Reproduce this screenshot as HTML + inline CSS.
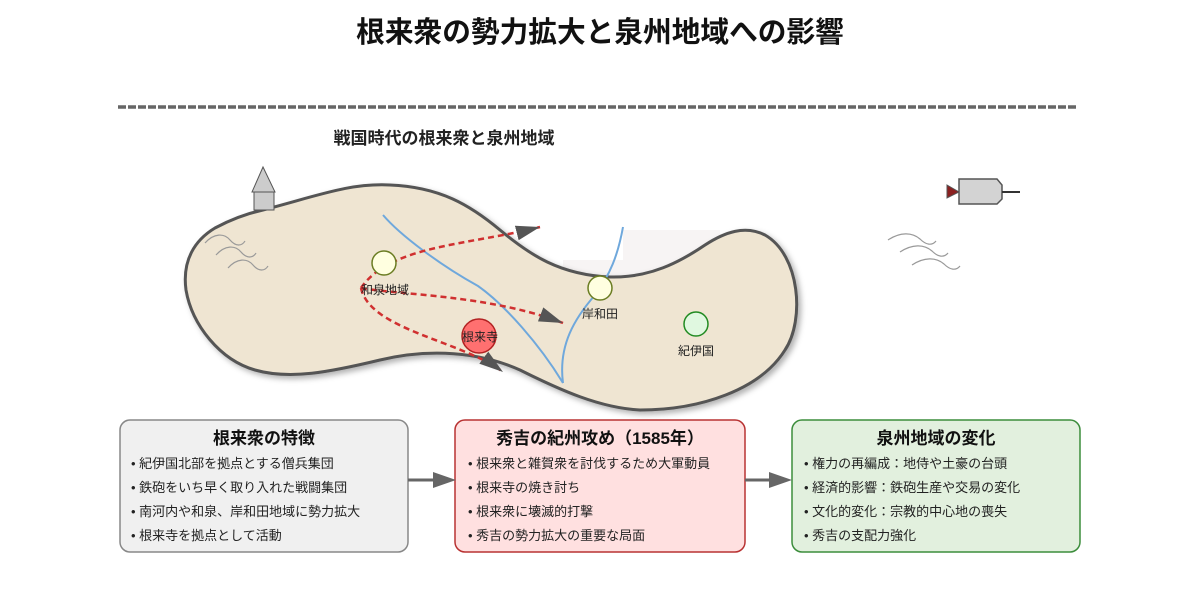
<!DOCTYPE html>
<html>
<head>
<meta charset="utf-8">
<style>
html,body{margin:0;padding:0;background:#fff;}
svg{display:block;}
text{font-family:"Liberation Sans","Noto Sans CJK JP",sans-serif;}
</style>
</head>
<body>
<svg width="1200" height="600" viewBox="0 0 1200 600" xmlns="http://www.w3.org/2000/svg">
<defs>
<filter id="sh" x="-10%" y="-10%" width="130%" height="130%">
<feDropShadow dx="3" dy="3" stdDeviation="3" flood-color="#000" flood-opacity="0.3"/>
</filter>
<marker id="ah" markerUnits="userSpaceOnUse" markerWidth="24" markerHeight="15" viewBox="0 0 24 15" refX="24" refY="7.5" orient="auto">
<path d="M0,0 L24,7.5 L0,15 z" fill="#555"/>
</marker>
</defs>

<!-- Title -->
<text x="600" y="42" text-anchor="middle" font-size="28.7" font-weight="bold" fill="#111">根来衆の勢力拡大と泉州地域への影響</text>
<line x1="118" y1="107" x2="1078" y2="107" stroke="#666" stroke-width="3.5" stroke-dasharray="8,2"/>
<text x="444" y="144" text-anchor="middle" font-size="17" font-weight="bold" fill="#222">戦国時代の根来衆と泉州地域</text>

<!-- faint background patch -->
<rect x="623" y="230" width="97" height="48" fill="#f7f4f4"/>
<rect x="563" y="260" width="60" height="18" fill="#f7f4f4"/>

<!-- Land -->
<path d="M263,210 C320,195 350,183 390,185 C440,187 470,205 500,230 C530,255 560,275 610,277 C650,278 680,262 705,245 C725,232 745,225 765,235 C800,255 805,320 785,350 C760,390 700,410 640,410 C600,408 560,390 520,370 C480,352 430,348 380,360 C330,372 290,380 255,370 C220,360 192,325 186,290 C182,260 195,240 215,228 C230,220 245,214 263,210 Z" fill="#efe5d2" stroke="#555" stroke-width="3" filter="url(#sh)"/>

<!-- Mountain / house icon -->
<polygon points="263,167 252,192 275,192" fill="#ccc" stroke="#555" stroke-width="1"/>
<rect x="254" y="192" width="20" height="18" fill="#ccc" stroke="#555" stroke-width="1"/>

<!-- Left waves -->
<g fill="none" stroke="#999" stroke-width="1.2">
<path d="M205,243 C214,233 224,233 230,240 C236,247 242,246 245,241"/>
<path d="M216,255 C225,245 235,245 241,252 C247,259 253,258 256,253"/>
<path d="M228,268 C237,258 247,258 253,265 C259,272 265,271 268,266"/>
</g>

<!-- Rivers -->
<g fill="none" stroke="#6fa8dc" stroke-width="2">
<path d="M383,215 C400,235 440,265 478,286 C505,305 540,345 563,383"/>
<path d="M563,383 C558,345 575,318 595,295 C610,275 618,255 623,227"/>
</g>

<!-- Red dashed routes -->
<g fill="none" stroke="#d03030" stroke-width="2.5" stroke-dasharray="6,4">
<path d="M361,288 C390,245 470,245 540,227" marker-end="url(#ah)"/>
<path d="M361,288 C400,295 490,295 563,323" marker-end="url(#ah)"/>
<path d="M361,288 C370,330 460,340 503,372" marker-end="url(#ah)"/>
</g>

<!-- Places -->
<circle cx="384" cy="263" r="12" fill="#ffffe0" stroke="#6b7d23" stroke-width="1.5"/>
<text x="385" y="294" text-anchor="middle" font-size="12" fill="#222">和泉地域</text>

<circle cx="479" cy="336" r="17" fill="#ff7070" stroke="#b22222" stroke-width="1.5"/>
<text x="480" y="341" text-anchor="middle" font-size="12" fill="#222">根来寺</text>

<circle cx="600" cy="288" r="12" fill="#ffffe0" stroke="#6b7d23" stroke-width="1.5"/>
<text x="600" y="318" text-anchor="middle" font-size="12" fill="#222">岸和田</text>

<circle cx="696" cy="324" r="12" fill="#e0f8e0" stroke="#228b22" stroke-width="1.5"/>
<text x="696" y="355" text-anchor="middle" font-size="12" fill="#222">紀伊国</text>

<!-- Ship -->
<polygon points="947,185 959,192 947,198" fill="#8b2020" stroke="#555" stroke-width="1"/>
<polygon points="959,179 997,179 1002,185 1002,199 997,204 959,204" fill="#d3d3d3" stroke="#555" stroke-width="1.5"/>
<line x1="1002" y1="192" x2="1020" y2="192" stroke="#333" stroke-width="2"/>

<!-- Right waves -->
<g fill="none" stroke="#999" stroke-width="1.2">
<path d="M888,240 C900,232 912,232 920,239 C926,245 932,246 936,241"/>
<path d="M900,252 C912,244 924,244 932,251 C938,257 944,258 948,253"/>
<path d="M912,265 C924,257 936,257 944,264 C950,270 956,271 960,266"/>
</g>

<!-- Boxes -->
<rect x="120" y="420" width="288" height="132" rx="10" fill="#f0f0f0" stroke="#888" stroke-width="1.5"/>
<text x="264" y="444" text-anchor="middle" font-size="17" font-weight="bold" fill="#111">根来衆の特徴</text>
<g font-size="13" fill="#222">
<text x="131" y="468">• 紀伊国北部を拠点とする僧兵集団</text>
<text x="131" y="492">• 鉄砲をいち早く取り入れた戦闘集団</text>
<text x="131" y="516">• 南河内や和泉、岸和田地域に勢力拡大</text>
<text x="131" y="540">• 根来寺を拠点として活動</text>
</g>

<rect x="455" y="420" width="290" height="132" rx="10" fill="#ffe0e0" stroke="#b83232" stroke-width="1.5"/>
<text x="600" y="444" text-anchor="middle" font-size="17" font-weight="bold" fill="#111">秀吉の紀州攻め（1585年）</text>
<g font-size="13" fill="#222">
<text x="468" y="468">• 根来衆と雑賀衆を討伐するため大軍動員</text>
<text x="468" y="492">• 根来寺の焼き討ち</text>
<text x="468" y="516">• 根来衆に壊滅的打撃</text>
<text x="468" y="540">• 秀吉の勢力拡大の重要な局面</text>
</g>

<rect x="792" y="420" width="288" height="132" rx="10" fill="#e2f0de" stroke="#3c8d3c" stroke-width="1.5"/>
<text x="936" y="444" text-anchor="middle" font-size="17" font-weight="bold" fill="#111">泉州地域の変化</text>
<g font-size="13" fill="#222">
<text x="804" y="468">• 権力の再編成：地侍や土豪の台頭</text>
<text x="804" y="492">• 経済的影響：鉄砲生産や交易の変化</text>
<text x="804" y="516">• 文化的変化：宗教的中心地の喪失</text>
<text x="804" y="540">• 秀吉の支配力強化</text>
</g>

<!-- Connector arrows -->
<line x1="408" y1="480" x2="436" y2="480" stroke="#666" stroke-width="3"/>
<polygon points="433,472 456,480 433,488" fill="#666"/>
<line x1="745" y1="480" x2="772" y2="480" stroke="#666" stroke-width="3"/>
<polygon points="769,472 792,480 769,488" fill="#666"/>
</svg>
</body>
</html>
